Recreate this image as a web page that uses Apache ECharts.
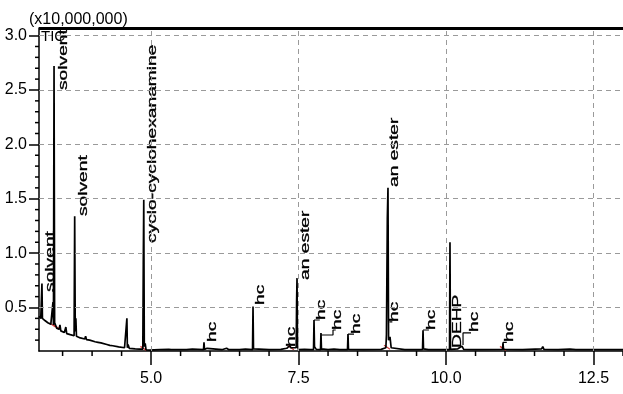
<!DOCTYPE html>
<html><head><meta charset="utf-8">
<script src="https://cdn.jsdelivr.net/npm/echarts@6/dist/echarts.min.js"></script>
<style>html,body{margin:0;padding:0;background:#fff}#c{width:623px;height:394px}</style>
</head><body><div id="c"></div>
<script>
// Retention time (min) and TIC intensity (x10,000,000)
const retentionTime = [
 3.10,3.13,3.145,3.15,3.158,3.20,3.25,3.30,3.33,3.337,3.345,3.35,3.355,3.365,3.40,3.44,3.455,3.47,3.53,3.555,3.57,3.63,
 3.695,3.705,3.715,3.725,3.735,3.80,3.875,3.89,3.905,3.96,4.05,4.10,4.13,4.15,4.25,4.30,4.33,4.35,4.45,4.55,
 4.583,4.59,4.598,4.61,4.63,4.73,4.80,4.86,4.868,4.876,4.885,4.90,4.915,4.98,5.05,5.15,5.30,5.32,5.34,5.60,5.70,5.72,
 5.889,5.897,5.905,5.95,5.97,6.20,6.28,6.32,6.50,6.60,6.62,6.72,6.728,6.736,6.76,7.00,7.20,7.30,7.33,7.35,7.37,7.40,
 7.46,7.467,7.474,7.482,7.50,7.60,7.70,7.754,7.762,7.770,7.80,7.872,7.880,7.888,8.00,8.10,8.20,8.330,8.338,8.346,
 8.60,8.90,8.98,8.99,9.005,9.016,9.026,9.05,9.07,9.30,9.55,9.602,9.610,9.618,9.70,10.00,10.059,10.067,10.075,
 10.20,10.27,10.30,10.50,10.958,10.966,10.974,11.30,11.62,11.64,11.66,11.90,12.10,12.20,12.50,12.80,13.00
];
const intensity = [
 0.42,0.40,0.40,0.72,0.40,0.38,0.36,0.345,0.34,0.55,0.34,0.34,2.72,0.36,0.31,0.30,0.34,0.285,0.27,0.32,0.26,0.25,
 0.24,1.34,0.28,0.40,0.235,0.22,0.21,0.235,0.205,0.20,0.185,0.18,0.19,0.175,0.16,0.152,0.165,0.148,0.138,0.13,
 0.13,0.40,0.13,0.16,0.125,0.12,0.118,0.118,0.90,1.49,0.14,0.17,0.11,0.108,0.11,0.112,0.115,0.125,0.112,0.112,0.118,0.112,
 0.112,0.18,0.115,0.125,0.112,0.112,0.125,0.112,0.112,0.118,0.112,0.112,0.51,0.12,0.112,0.112,0.115,0.125,0.13,0.15,0.13,0.12,
 0.13,0.55,0.77,0.14,0.112,0.115,0.112,0.112,0.385,0.14,0.115,0.112,0.265,0.12,0.112,0.118,0.112,0.112,0.255,0.115,
 0.112,0.115,0.13,0.25,1.32,1.60,0.20,0.23,0.13,0.112,0.112,0.115,0.29,0.12,0.112,0.112,0.112,1.10,0.115,
 0.12,0.145,0.115,0.112,0.115,0.17,0.115,0.112,0.12,0.14,0.115,0.112,0.118,0.112,0.112,0.112,0.112
];
// Peak annotations (vertical text): name, time of text, intensity at text start
const peakLabelText = ['solvent','solvent','solvent','cyclo-cyclohexanamine','hc','hc','hc','an ester','hc','hc','hc','an ester','hc','hc','DEHP','hc','hc'];
const peakLabelTime = [3.303,3.515,3.863,5.033,6.05,6.863,7.389,7.626,7.897,8.169,8.491,9.135,9.135,9.762,10.203,10.491,11.084];
const peakLabelLevel = [0.643,2.50,1.341,1.093,0.183,0.523,0.137,0.753,0.385,0.293,0.256,1.608,0.367,0.293,0.128,0.275,0.183];
// Leader lines from peaks to their labels
const leaderLines = [
 [[7.762,0.385],[7.86,0.385]],
 [[7.880,0.247],[8.084,0.247],[8.084,0.293],[8.13,0.293]],
 [[8.338,0.256],[8.44,0.256]],
 [[9.04,0.367],[9.09,0.367]],
 [[9.610,0.293],[9.71,0.293]],
 [[10.288,0.155],[10.288,0.266],[10.424,0.266]],
 [[10.966,0.12],[10.966,0.18],[11.03,0.18]]
];
// Integration start/end marks (red)
const integrationMarks = [[3.33,0.33],[3.40,0.31],[4.87,0.115],[9.0,0.125],[10.966,0.115],[7.37,0.12]];
const xTickLabels = [5.0,7.5,10.0,12.5];
const xMinorTicks = [3.5,4.0,4.5,5.5,6.0,6.5,7.0,8.0,8.5,9.0,9.5,10.5,11.0,11.5,12.0,13.0];
const yTickLabels = [0.5,1.0,1.5,2.0,2.5,3.0];
const yMinorTicks = [0.2,0.3,0.4,0.6,0.7,0.8,0.9,1.1,1.2,1.3,1.4,1.6,1.7,1.8,1.9,2.1,2.2,2.3,2.4,2.6,2.7,2.8,2.9];

const FONT = '"Liberation Sans Narrow","Arial Narrow","Liberation Sans",Arial,sans-serif';
const X_MIN = 3.1, X_MAX = 13.0, Y_MIN = 0.1, Y_MAX = 3.07;
const chart = echarts.init(document.getElementById('c'));

const series = [{
  type:'line', data: retentionTime.map((t,i)=>[t,intensity[i]]), showSymbol:false, symbol:'none',
  lineStyle:{color:'#000', width:1.7}, z:3,
  markLine:{silent:true, symbol:'none', label:{show:false}, animation:false,
    lineStyle:{color:'#9a9a9a', type:[5,4], width:1},
    data: yTickLabels.map(v=>({yAxis:v})).concat(xTickLabels.map(v=>({xAxis:v})))
      .concat([{yAxis:Y_MAX, lineStyle:{color:'#000', type:'solid', width:3}}])}
},{
  type:'custom', coordinateSystem:'cartesian2d', clip:false,
  data: peakLabelTime.map((t,i)=>[t,peakLabelLevel[i],i]),
  renderItem:(params, api)=>{
    const p = api.coord([api.value(0), api.value(1)]);
    const i = api.value(2);
    return {type:'text', x:p[0], y:p[1], rotation:Math.PI/2, scaleX:1.6,
      style:{text:peakLabelText[i], font:'12px "Liberation Sans",Arial,sans-serif', fill:'#000',
        stroke:'#000', lineWidth:0.3,
        align:'left', verticalAlign:'middle', textAlign:'left', textVerticalAlign:'middle'}};
  }
},{
  // minor ticks of the time axis
  type:'custom', coordinateSystem:'cartesian2d', clip:false,
  data: xMinorTicks.map(v=>[v, Y_MIN, 5]),
  renderItem:(params, api)=>{
    const c = api.coord([api.value(0), api.value(1)]);
    return {type:'rect', shape:{x:c[0]-0.75, y:c[1], width:1.5, height:api.value(2)}, style:{fill:'#000'}};
  }
},{
  // minor ticks of the intensity axis
  type:'custom', coordinateSystem:'cartesian2d', clip:false,
  data: yMinorTicks.map(v=>[X_MIN, v, 4]),
  renderItem:(params, api)=>{
    const c = api.coord([api.value(0), api.value(1)]);
    return {type:'rect', shape:{x:c[0]-api.value(2), y:c[1]-0.75, width:api.value(2), height:1.5}, style:{fill:'#000'}};
  }
},{
  type:'custom', coordinateSystem:'cartesian2d', clip:false,
  data: integrationMarks,
  renderItem:(params, api)=>{
    const p = api.coord([api.value(0), api.value(1)]);
    return {type:'line', shape:{x1:p[0]-3, y1:p[1]-3, x2:p[0]+3, y2:p[1]+1}, style:{stroke:'#d23a3a', lineWidth:1.3}};
  }
}];
leaderLines.forEach(seg=>series.push({type:'line', data:seg, showSymbol:false, symbol:'none',
  lineStyle:{color:'#000', width:1.2}, silent:true, z:4}));

chart.setOption({
  animation:false,
  grid:{left:39, right:0, top:28, bottom:43},
  graphic:[
    {type:'text', left:29, top:12, style:{text:'(x10,000,000)', font:'16px '+FONT, fill:'#000'}},
    {type:'text', left:41, top:29, z:10, style:{text:'TIC', font:'15px "Liberation Sans",Arial,sans-serif', fill:'#000'}}
  ],
  xAxis:[{type:'value', min:X_MIN, max:X_MAX,
     axisLine:{show:true, onZero:false, lineStyle:{color:'#000', width:1.5}},
     axisTick:{show:true, length:14, customValues:xTickLabels, lineStyle:{color:'#000', width:1.5}},
     axisLabel:{customValues:xTickLabels, formatter:v=>v.toFixed(1), margin:20, fontSize:16, fontFamily:FONT, color:'#000'},
     splitLine:{show:false}}],
  yAxis:[{type:'value', min:Y_MIN, max:Y_MAX,
     axisLine:{show:true, onZero:false, lineStyle:{color:'#000', width:1.5}},
     axisTick:{show:true, length:10, customValues:yTickLabels, lineStyle:{color:'#000', width:1.5}},
     axisLabel:{customValues:yTickLabels, formatter:v=>v.toFixed(1), margin:12, fontSize:16, fontFamily:FONT, color:'#000'},
     splitLine:{show:false}}],
  series: series
});
</script></body></html>
